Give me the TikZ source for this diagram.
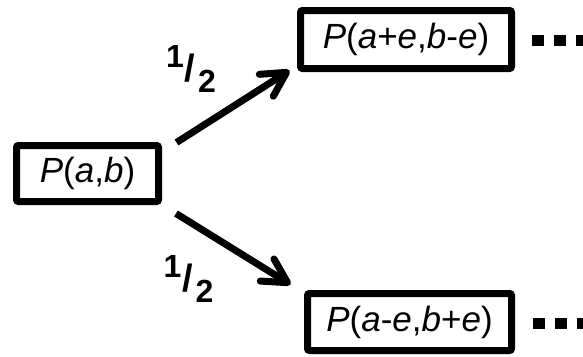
\documentclass[tikz,border=0pt]{standalone}
\usepackage{fontspec}
\setmainfont{Liberation Sans}
\usetikzlibrary{arrows.meta}
\begin{document}
\begin{tikzpicture}[x=1pt,y=-1pt,
  box/.style={draw, line width=7pt, rounded corners=2pt, inner sep=0pt, font=\fontsize{35}{35}\selectfont},
  arr/.style={line width=7pt, -{Straight Barb[length=24pt,width=26pt,round]}},
  more/.style={line width=11pt, dash pattern=on 12pt off 10pt},
  frac/.style={inner sep=0pt, anchor=base west, font=\bfseries}
]
\useasboundingbox (0,0) rectangle (583,356);
\node[box, minimum width=142pt, minimum height=56pt] (L) at (87.5,173.5) {\textit{P}(\textit{a},\textit{b})};
\node[box, minimum width=211pt, minimum height=58pt] (T) at (406,39.5) {\textit{P}(\textit{a}+\textit{e},\textit{b}-\textit{e})};
\node[box, minimum width=204pt, minimum height=57pt] (B) at (409.5,322) {\textit{P}(\textit{a}-\textit{e},\textit{b}+\textit{e})};
\draw[arr] ([shift={(14.5,0.5)}]L.north east) -- ([shift={(-7.5,-1.5)}]T.south west);
\draw[arr] ([shift={(14,8.5)}]L.south east) -- ([shift={(-13.5,-5.5)}]B.north west);
\coordinate (Tend) at (584,40.5);
\coordinate (Bend) at (585,323);
\draw[more] ([shift={(16.5,1)}]T.east) -- (Tend);
\draw[more] ([shift={(17.5,1)}]B.east) -- (Bend);
\node[frac] (h1) at (166,81) {\fontsize{32}{32}\selectfont\raisebox{14pt}{1}\hspace{1pt}{\fontsize{38}{38}\selectfont/}\hspace{2.5pt}\raisebox{-11pt}{2}};
\node[frac] (h2) at (163.5,291) {\fontsize{32}{32}\selectfont\raisebox{14pt}{1}\hspace{1pt}{\fontsize{38}{38}\selectfont/}\hspace{2.5pt}\raisebox{-11pt}{2}};
\end{tikzpicture}
\end{document}
